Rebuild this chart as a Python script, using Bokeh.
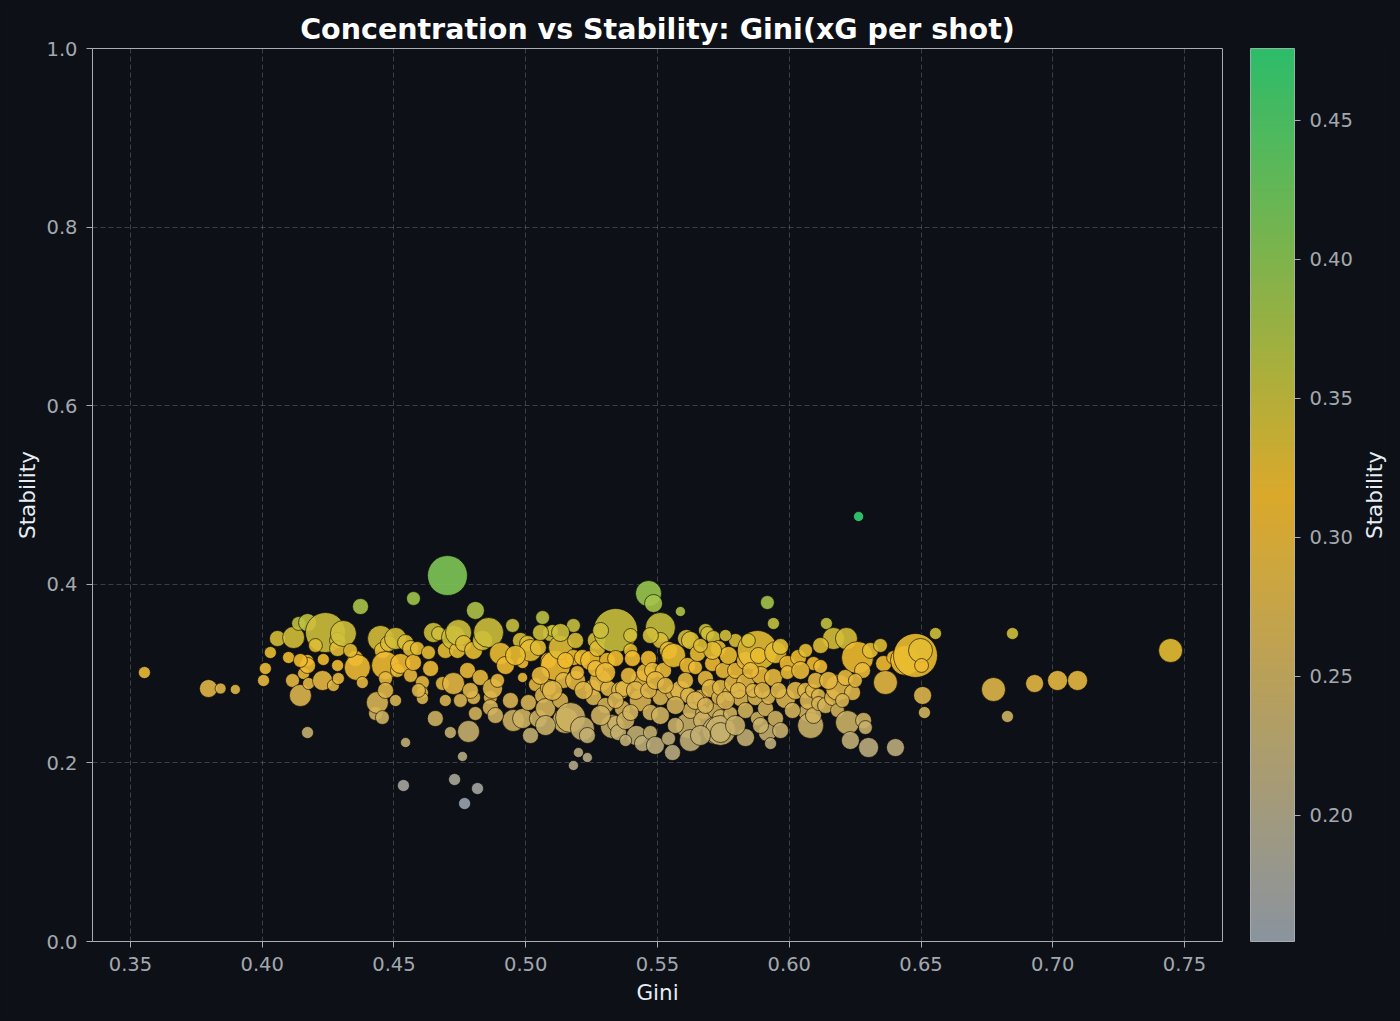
import numpy as np
from bokeh.plotting import figure
from bokeh.models import (ColumnDataSource, LinearColorMapper, Range1d, FixedTicker,
                          PrintfTickFormatter)
from bokeh.layouts import row
from bokeh.embed import file_html
from bokeh.resources import INLINE

# ---------------- data ----------------
gini = [
    0.3553, 0.3796, 0.3842, 0.3898, 0.4005, 0.4012, 0.4031, 0.4058, 0.4100, 0.4115,
    0.4119, 0.4138, 0.4145, 0.4157, 0.4172, 0.4172, 0.4172, 0.4172, 0.4176, 0.4229,
    0.4232, 0.4240, 0.4270, 0.4286, 0.4286, 0.4286, 0.4289, 0.4308, 0.4354, 0.4361,
    0.4373, 0.4380, 0.4430, 0.4437, 0.4449, 0.4456, 0.4456, 0.4468, 0.4468, 0.4468,
    0.4479, 0.4506, 0.4513, 0.4525, 0.4536, 0.4544, 0.4544, 0.4563, 0.4563, 0.4574,
    0.4574, 0.4589, 0.4608, 0.4608, 0.4608, 0.4631, 0.4650, 0.4657, 0.4669, 0.4684,
    0.4695, 0.4703, 0.4714, 0.4726, 0.4726, 0.4730, 0.4741, 0.4745, 0.4760, 0.4764,
    0.4768, 0.4779, 0.4783, 0.4802, 0.4802, 0.4809, 0.4809, 0.4817, 0.4828, 0.4836,
    0.4859, 0.4866, 0.4866, 0.4874, 0.4893, 0.4904, 0.4942, 0.4950, 0.4953, 0.4980,
    0.4988, 0.4988, 0.4988, 0.5007, 0.5010, 0.5018, 0.5037, 0.5048, 0.5048, 0.5064,
    0.5064, 0.5075, 0.5086, 0.5086, 0.5094, 0.5101, 0.5113, 0.5132, 0.5132, 0.5143,
    0.5151, 0.5170, 0.5181, 0.5181, 0.5181, 0.5189, 0.5196, 0.5200, 0.5215, 0.5215,
    0.5234, 0.5234, 0.5246, 0.5253, 0.5257, 0.5268, 0.5272, 0.5284, 0.5303, 0.5310,
    0.5314, 0.5329, 0.5341, 0.5341, 0.5341, 0.5352, 0.5360, 0.5367, 0.5371, 0.5379,
    0.5398, 0.5405, 0.5420, 0.5435, 0.5435, 0.5443, 0.5454, 0.5466, 0.5466, 0.5473,
    0.5473, 0.5481, 0.5485, 0.5492, 0.5511, 0.5511, 0.5511, 0.5523, 0.5542, 0.5542,
    0.5557, 0.5561, 0.5561, 0.5587, 0.5587, 0.5610, 0.5614, 0.5618, 0.5618, 0.5625,
    0.5625, 0.5625, 0.5644, 0.5652, 0.5663, 0.5671, 0.5671, 0.5682, 0.5682, 0.5690,
    0.5701, 0.5709, 0.5712, 0.5720, 0.5724, 0.5731, 0.5731, 0.5739, 0.5739, 0.5739,
    0.5739, 0.5750, 0.5769, 0.5777, 0.5777, 0.5788, 0.5796, 0.5796, 0.5815, 0.5834,
    0.5834, 0.5834, 0.5834, 0.5872, 0.5879, 0.5879, 0.5883, 0.5891, 0.5910, 0.5917,
    0.5917, 0.5921, 0.5929, 0.5940, 0.5940, 0.5948, 0.5948, 0.5967, 0.5986, 0.5993,
    0.5993, 0.6024, 0.6035, 0.6062, 0.6069, 0.6073, 0.6081, 0.6088, 0.6092, 0.6092,
    0.6111, 0.6111, 0.6119, 0.6138, 0.6141, 0.6164, 0.6168, 0.6183, 0.6187, 0.6213,
    0.6217, 0.6221, 0.6232, 0.6240, 0.6259, 0.6263, 0.6278, 0.6282, 0.6289, 0.6301,
    0.6358, 0.6365, 0.6396, 0.6403, 0.6441, 0.6479, 0.6498, 0.6502, 0.6506, 0.6513,
    0.6555, 0.6775, 0.6828, 0.6847, 0.6931, 0.7018, 0.7094, 0.7447,
    0.4923, 0.4961, 0.5056, 0.5101, 0.5151, 0.5219, 0.5265, 0.5303, 0.5341, 0.5390,
    0.5416, 0.5466, 0.5492, 0.5530, 0.5568, 0.5606, 0.5644, 0.5682, 0.5709, 0.5758,
    0.5807, 0.5853, 0.5861, 0.5898, 0.5959, 0.6012, 0.6043, 0.6100, 0.6149, 0.6202,
    0.6251, 0.5018, 0.5075, 0.5284, 0.5398, 0.5511, 0.5568, 0.5663, 0.5796, 0.5891,
    0.5967, 0.4790, 0.4752, 0.4695, 0.4639, 0.4593, 0.4506, 0.4335, 0.4202, 0.4145,
    0.4885, 0.5379, 0.5473, 0.5398, 0.5284, 0.5189, 0.5132, 0.5056, 0.5663, 0.5758,
    0.5845, 0.6062, 0.6119, 0.6308, 0.6346,
]
stability = [
    0.3012, 0.2833, 0.2833, 0.2822, 0.2923, 0.3057, 0.3236, 0.3393, 0.3180, 0.2923,
    0.3404, 0.3561, 0.2755, 0.3001, 0.3572, 0.3147, 0.3091, 0.2340, 0.2889, 0.2923,
    0.3158, 0.3460, 0.2867, 0.3371, 0.3281, 0.3091, 0.2945, 0.3449, 0.3169, 0.3068,
    0.3751, 0.2900, 0.2553, 0.2676, 0.3393, 0.3259, 0.2508, 0.3091, 0.2945, 0.2811,
    0.3337, 0.3393, 0.3035, 0.3113, 0.1747, 0.3348, 0.2228, 0.3281, 0.2979, 0.3841,
    0.3124, 0.3281, 0.2900, 0.2788, 0.2721, 0.3236, 0.3460, 0.2497, 0.3449, 0.2889,
    0.3259, 0.4098, 0.2340, 0.3404, 0.2889, 0.1814, 0.3259, 0.3460, 0.2072, 0.3337,
    0.1545, 0.3035, 0.2352, 0.3259, 0.2732, 0.3707, 0.2553, 0.1713, 0.2956, 0.3371,
    0.3460, 0.2732, 0.2620, 0.2833, 0.2923, 0.3225, 0.2699, 0.3539, 0.2475, 0.3371,
    0.3124, 0.2956, 0.2497, 0.3337, 0.2676, 0.3259, 0.2878, 0.3292, 0.2497, 0.3628,
    0.2755, 0.2609, 0.3147, 0.2844, 0.3449, 0.3483, 0.3091, 0.3292, 0.2699, 0.2923,
    0.2475, 0.2508, 0.3539, 0.3180, 0.1971, 0.2923, 0.3012, 0.2116, 0.3180, 0.2385,
    0.2307, 0.2060, 0.3147, 0.2844, 0.2732, 0.3371, 0.3281, 0.2923, 0.2643, 0.3147,
    0.2833, 0.2408, 0.3483, 0.3169, 0.2441, 0.2340, 0.2811, 0.2609, 0.2833, 0.2475,
    0.3259, 0.3169, 0.2307, 0.2923, 0.2699, 0.2217, 0.3012, 0.3897, 0.3169, 0.2564,
    0.2340, 0.3035, 0.3785, 0.2195, 0.3516, 0.3371, 0.2732, 0.3035, 0.3259, 0.2273,
    0.2116, 0.3203, 0.2788, 0.3695, 0.2811, 0.3393, 0.3091, 0.2755, 0.2419, 0.3371,
    0.2587, 0.2251, 0.3068, 0.3225, 0.2732, 0.2564, 0.2475, 0.3483, 0.2945, 0.3449,
    0.2833, 0.3113, 0.3404, 0.2587, 0.2363, 0.3281, 0.2732, 0.2844, 0.2508, 0.2363,
    0.2340, 0.3035, 0.3203, 0.2777, 0.2553, 0.2889, 0.3371, 0.3035, 0.2721, 0.3147,
    0.2900, 0.2587, 0.2284, 0.2732, 0.3259, 0.2497, 0.3203, 0.2979, 0.2609, 0.3796,
    0.2340, 0.2732, 0.2217, 0.3561, 0.2956, 0.3236, 0.2497, 0.3303, 0.2721, 0.3113,
    0.3012, 0.2811, 0.3180, 0.2811, 0.2564, 0.2699, 0.2419, 0.2811, 0.3113, 0.2531,
    0.2755, 0.2665, 0.3079, 0.2643, 0.3561, 0.2732, 0.3393, 0.2587, 0.2844, 0.2956,
    0.3393, 0.2452, 0.2251, 0.2788, 0.3180, 0.4759, 0.3035, 0.2475, 0.2396, 0.2172,
    0.3113, 0.2900, 0.3180, 0.2172, 0.3147, 0.3203, 0.3259, 0.3091, 0.2755, 0.2564,
    0.3449, 0.2822, 0.2520, 0.3449, 0.2889, 0.2923, 0.2923, 0.3259,
    0.3091, 0.3203, 0.2979, 0.2811, 0.3147, 0.2811, 0.3057, 0.3012, 0.2699, 0.2979,
    0.2811, 0.2811, 0.2923, 0.2867, 0.2643, 0.2923, 0.2699, 0.2643, 0.3259, 0.2699,
    0.2811, 0.3035, 0.2811, 0.2811, 0.2811, 0.2587, 0.3035, 0.2923, 0.2923, 0.2699,
    0.2923, 0.2307, 0.2419, 0.2531, 0.2564, 0.2531, 0.2419, 0.2307, 0.2419, 0.2419,
    0.2363, 0.2811, 0.2699, 0.2699, 0.3057, 0.2811, 0.2699, 0.3259, 0.3315, 0.3147,
    0.2531, 0.2251, 0.3427, 0.3427, 0.3483, 0.3371, 0.3460, 0.3460, 0.3315, 0.3427,
    0.3371, 0.3259, 0.3315, 0.3259, 0.3315,
]
shots = [
    30, 67, 25, 21, 30, 30, 30, 53, 30, 40,
    100, 40, 100, 30, 67, 30, 53, 30, 30, 83,
    30, 330, 30, 53, 53, 30, 30, 140, 53, 140,
    53, 30, 40, 100, 140, 53, 40, 162, 40, 53,
    53, 100, 40, 83, 30, 53, 21, 53, 40, 40,
    53, 40, 40, 30, 30, 40, 83, 53, 40, 40,
    53, 330, 30, 119, 100, 30, 53, 140, 21, 53,
    30, 53, 100, 67, 40, 67, 40, 30, 53, 83,
    186, 40, 53, 83, 40, 100, 53, 40, 100, 53,
    30, 21, 83, 53, 53, 100, 40, 53, 67, 40,
    53, 83, 53, 53, 53, 30, 186, 119, 53, 53,
    140, 186, 40, 53, 21, 83, 40, 21, 53, 119,
    53, 21, 83, 53, 53, 67, 53, 100, 53, 53,
    53, 119, 400, 53, 53, 53, 67, 53, 53, 67,
    40, 53, 83, 83, 100, 53, 67, 140, 53, 53,
    40, 53, 67, 67, 186, 53, 53, 53, 67, 40,
    53, 119, 53, 21, 83, 67, 53, 53, 140, 67,
    53, 100, 40, 53, 53, 40, 67, 40, 53, 40,
    67, 53, 40, 53, 162, 53, 40, 53, 53, 186,
    83, 53, 67, 53, 40, 67, 40, 53, 53, 67,
    67, 53, 67, 53, 330, 40, 53, 67, 53, 40,
    67, 40, 30, 30, 67, 100, 53, 53, 83, 53,
    40, 67, 53, 53, 67, 67, 140, 40, 40, 53,
    40, 40, 40, 53, 30, 53, 100, 40, 140, 53,
    100, 119, 67, 53, 212, 21, 53, 53, 40, 83,
    53, 119, 40, 67, 186, 400, 119, 40, 67, 30,
    30, 119, 30, 30, 67, 83, 83, 119,
    67, 83, 67, 83, 53, 67, 53, 83, 53, 53,
    67, 53, 67, 53, 67, 53, 67, 53, 67, 67,
    53, 53, 40, 53, 53, 53, 67, 53, 67, 40,
    40, 53, 83, 83, 53, 67, 53, 83, 83, 53,
    53, 53, 40, 30, 53, 40, 30, 40, 40, 40,
    53, 30, 53, 40, 53, 53, 67, 53, 40, 30,
    40, 40, 53, 53, 40,
]

x_ticks = [0.35, 0.40, 0.45, 0.50, 0.55, 0.60, 0.65, 0.70, 0.75]
y_ticks = [0.0, 0.2, 0.4, 0.6, 0.8, 1.0]
cb_ticks = [0.20, 0.25, 0.30, 0.35, 0.40, 0.45]

# ---------------- styling ----------------
BG = "#0d1117"
SPINE = "#a9adb2"
TICKLBL = "#a3a8ae"
LABEL = "#e6edf3"
FONT = "DejaVu Sans"
TICK_FS = "19.5px"
LABEL_FS = "21.5px"
ALPHA = 0.9
anchors = ["#99a3ad", "#f1bb2e", "#32d073"]


def hex2rgb(h):
    h = h.lstrip("#")
    return np.array([int(h[i:i + 2], 16) for i in (0, 2, 4)], dtype=float)


def make_palette(cols, n=256):
    rgbs = [hex2rgb(c) for c in cols]
    out = []
    seg = len(rgbs) - 1
    for t in np.linspace(0, 1, n):
        k = min(int(t * seg), seg - 1)
        f = t * seg - k
        c = rgbs[k] * (1 - f) + rgbs[k + 1] * f
        out.append("#%02x%02x%02x" % tuple(int(round(v)) for v in c))
    return out


palette = make_palette(anchors)
vmin, vmax = min(stability), max(stability)
mapper = LinearColorMapper(palette=palette, low=vmin, high=vmax)

src = ColumnDataSource(dict(
    x=gini, y=stability, n=shots,
    d=[2.2 * np.sqrt(v) for v in shots],
))

TOP, BOTTOM = 48, 76

p = figure(frame_width=1130, frame_height=893,
           x_range=Range1d(0.3356, 0.7644), y_range=Range1d(0, 1),
           output_backend="svg", toolbar_location=None,
           background_fill_color=BG, border_fill_color=BG,
           min_border_left=92, min_border_right=14,
           min_border_top=TOP, min_border_bottom=BOTTOM)

p.title.text = "Concentration vs Stability: Gini(xG per shot)"
p.title.align = "center"
p.title.text_color = "#ffffff"
p.title.text_font = FONT
p.title.text_font_size = "28.5px"
p.title.text_font_style = "bold"
p.title.standoff = 6

p.outline_line_color = SPINE
p.outline_line_width = 1

for ax in (p.xaxis[0], p.yaxis[0]):
    ax.axis_line_color = SPINE
    ax.major_tick_line_color = SPINE
    ax.major_tick_out = 6
    ax.major_tick_in = 0
    ax.minor_tick_line_color = None
    ax.major_label_text_color = TICKLBL
    ax.major_label_text_font = FONT
    ax.major_label_text_font_size = TICK_FS
    ax.major_label_standoff = 9
    ax.axis_label_text_color = LABEL
    ax.axis_label_text_font = FONT
    ax.axis_label_text_font_size = LABEL_FS
    ax.axis_label_text_font_style = "normal"

p.xaxis.ticker = FixedTicker(ticks=x_ticks)
p.yaxis.ticker = FixedTicker(ticks=y_ticks)
p.xaxis.formatter = PrintfTickFormatter(format="%.2f")
p.yaxis.formatter = PrintfTickFormatter(format="%.1f")
p.xaxis.axis_label = "Gini"
p.yaxis.axis_label = "Stability"
p.xaxis.axis_label_standoff = 6
p.yaxis.axis_label_standoff = 3

for g in (p.xgrid[0], p.ygrid[0]):
    g.grid_line_color = "#8b949e"
    g.grid_line_alpha = 0.35
    g.grid_line_dash = "5 3"
    g.grid_line_width = 1

p.scatter("x", "y", size="d", source=src,
          fill_color={"field": "y", "transform": mapper}, fill_alpha=ALPHA,
          line_color="#000000", line_alpha=0.75, line_width=0.8)

# ---------------- colorbar as its own small figure ----------------
cb = figure(frame_width=44, frame_height=893,
            x_range=Range1d(0, 1), y_range=Range1d(vmin, vmax),
            output_backend="svg", toolbar_location=None,
            x_axis_location=None, y_axis_location="right",
            background_fill_color=BG, border_fill_color=BG,
            min_border_left=14, min_border_right=60,
            min_border_top=TOP, min_border_bottom=BOTTOM)
grad = np.linspace(vmin, vmax, 512).reshape(512, 1)
cb.image(image=[grad], x=0, y=vmin, dw=1, dh=vmax - vmin, color_mapper=mapper,
         global_alpha=ALPHA)
cb.grid.visible = False
cb.outline_line_color = SPINE
cb.outline_line_width = 1
yax = cb.yaxis[0]
yax.ticker = FixedTicker(ticks=cb_ticks)
yax.formatter = PrintfTickFormatter(format="%.2f")
yax.axis_line_color = None
yax.major_tick_line_color = SPINE
yax.major_tick_out = 6
yax.major_tick_in = 0
yax.minor_tick_line_color = None
yax.major_label_text_color = TICKLBL
yax.major_label_text_font = FONT
yax.major_label_text_font_size = TICK_FS
yax.major_label_standoff = 9

# ---------------- colorbar label (a left axis of a thin figure) ----------------
lab = figure(frame_width=1, frame_height=893,
             x_range=Range1d(0, 1), y_range=Range1d(0, 1),
             output_backend="svg", toolbar_location=None,
             x_axis_location=None, y_axis_location="left",
             background_fill_color=BG, border_fill_color=BG,
             min_border_left=36, min_border_right=0,
             min_border_top=TOP, min_border_bottom=BOTTOM)
lab.outline_line_color = None
lab.grid.visible = False
lax = lab.yaxis[0]
lax.ticker = FixedTicker(ticks=[])
lax.axis_line_color = None
lax.major_tick_line_color = None
lax.minor_tick_line_color = None
lax.axis_label = "Stability"
lax.axis_label_text_color = LABEL
lax.axis_label_text_font = FONT
lax.axis_label_text_font_size = LABEL_FS
lax.axis_label_text_font_style = "normal"
lax.axis_label_standoff = 5

layout = row(p, cb, lab, spacing=0)
layout.styles = {"background-color": BG}

html = file_html(layout, INLINE, title="Concentration vs Stability")
html = html.replace(
    "<head>",
    "<head><style>html,body{margin:0;padding:0;background-color:#0d1117;}</style>", 1)
open("out.html", "w").write(html)
